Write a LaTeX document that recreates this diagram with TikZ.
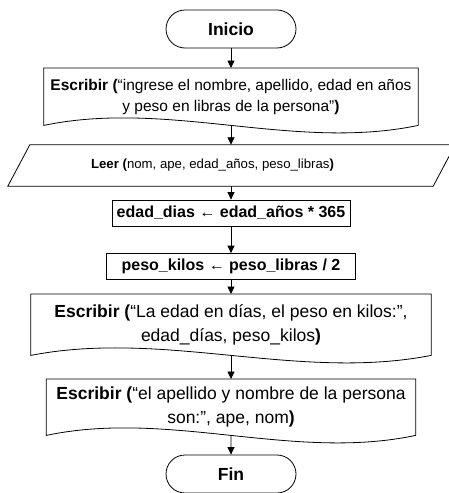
\documentclass[tikz,border=0pt]{standalone}
\usepackage{fontspec}
\setmainfont{Liberation Sans}
\usetikzlibrary{arrows.meta,calc,shapes.misc}

\tikzset{
  terminal/.style={rounded rectangle, draw, line width=0.8pt, minimum width=130pt,
    minimum height=38pt, inner sep=0pt, font=\fontsize{17.5}{21}\selectfont\bfseries},
  proceso/.style={rectangle, draw, line width=0.8pt, minimum height=26pt, inner sep=0pt,
    font=\fontsize{16}{19}\selectfont\bfseries},
  hoja/.style={rectangle, inner sep=0pt, align=center, anchor=north},
  lectura/.style={rectangle, inner sep=0pt, minimum width=425pt, minimum height=41pt,
    font=\fontsize{13.2}{16}\selectfont},
  flecha/.style={-{Triangle[length=7.5pt,width=7pt]}, line width=0.8pt},
}
% hoja de salida con borde ondulado abajo
\newcommand{\borde}[1]{%
  \draw[line width=0.8pt] (#1.south east) -- (#1.north east) -- (#1.north west) -- (#1.south west)
    .. controls ($(#1.south west)!0.333!(#1.south east)+(0,-26)$)
    and ($(#1.south west)!0.667!(#1.south east)+(0,26)$) .. (#1.south east);}

\begin{document}
\begin{tikzpicture}[x=1pt,y=-1pt]
\useasboundingbox (0,0) rectangle (448,493);

\node[terminal] (inicio) at (231,29) {Inicio};

\node[hoja, minimum width=374pt, minimum height=57pt, font=\fontsize{15.5}{21}\selectfont]
  (esc1) at (231,68) {\textbf{Escribir (}“ingrese el nombre, apellido, edad en años\\
  y peso en libras de la persona”\textbf{)}};
\borde{esc1}

% el texto de Leer va corrido a la izquierda
\node[lectura] (leer) at (212.5,165.5) {\textbf{Leer (}nom, ape, edad\_años, peso\_libras\textbf{)}};
\draw[line width=0.8pt] ([xshift=8pt]leer.south west) -- ([xshift=30pt]leer.north west)
  -- ([xshift=30pt]leer.north east) -- ([xshift=8pt]leer.south east) -- cycle;

\node[proceso, minimum width=238pt] (asig1) at (231,213) {edad\_dias \textmd{←} edad\_años * 365};
\node[proceso, minimum width=249pt] (asig2) at (231,266.5) {peso\_kilos \textmd{←} peso\_libras / 2};

\node[hoja, minimum width=400pt, minimum height=61pt, font=\fontsize{17.5}{24}\selectfont]
  (esc2) at (231,294) {\textbf{Escribir (}“La edad en días, el peso en kilos:”,\\
  edad\_días, peso\_kilos\textbf{)}};
\borde{esc2}

\node[hoja, minimum width=369pt, minimum height=56pt, font=\fontsize{17.5}{24}\selectfont]
  (esc3) at (231,379) {\textbf{Escribir (}“el apellido y nombre de la persona\\
  son:”, ape, nom\textbf{)}};
\borde{esc3}

\node[terminal] (fin) at (231,474) {Fin};

\draw[flecha] (esc1) -- (esc1 |- leer.north);
\draw[flecha] (leer.south -| asig1) -- (asig1);
\foreach \a/\b in {inicio/esc1, asig1/asig2, asig2/esc2, esc2/esc3, esc3/fin}
  \draw[flecha] (\a) -- (\b);

\end{tikzpicture}
\end{document}
